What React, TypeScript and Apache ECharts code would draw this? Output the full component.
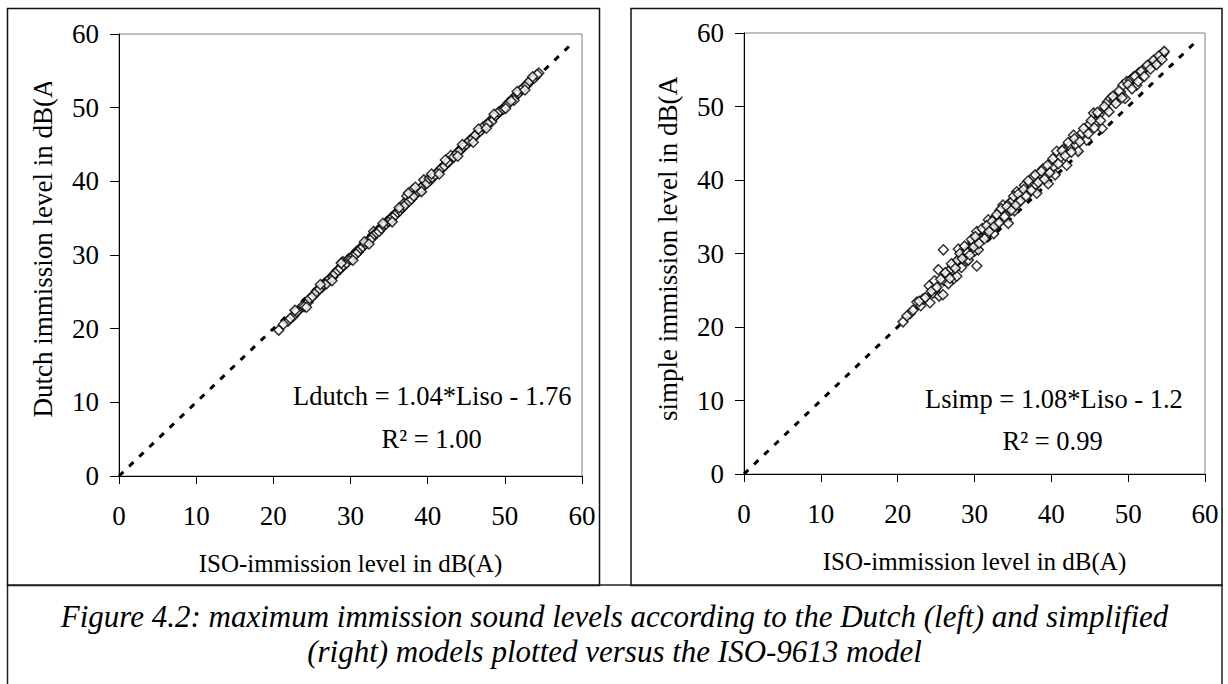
import React, { useEffect, useRef } from "react";
import * as echarts from "echarts";

// ---------- data ----------
const axisTicks = [0, 10, 20, 30, 40, 50, 60];
const identityLine = [0, 59];

// Left panel: ISO level (x) vs Dutch model level (y)
const isoLeft = [
  20.7, 21.9, 22.6, 23.3, 23.8, 24.5, 24.9, 25.4, 25.8, 26.3, 26.7, 27.1, 27.5, 27.9, 28.2, 28.6,
  28.9, 29.3, 29.6, 29.9, 30.2, 30.5, 30.8, 31.1, 31.4, 31.7, 32.0, 32.3, 32.6, 32.9, 33.2, 33.5,
  33.8, 34.1, 34.4, 34.7, 35.0, 35.3, 35.6, 35.9, 36.2, 36.5, 36.8, 37.1, 37.4, 37.7, 38.0, 38.3,
  38.6, 39.0, 39.3, 39.7, 40.0, 40.4, 40.8, 41.2, 41.6, 42.0, 42.4, 42.8, 43.2, 43.6, 44.0, 44.4,
  44.8, 45.2, 45.6, 46.0, 46.5, 47.0, 47.5, 48.0, 48.5, 49.0, 49.5, 50.0, 50.5, 51.0, 51.5, 52.0,
  52.5, 53.0, 53.5, 54.0, 54.4, 29.0, 33.0, 36.9, 37.3, 38.1, 39.5, 43.0, 48.3, 51.2,
  21.3, 22.2, 23.0, 24.0, 24.7, 25.1, 25.6, 26.0, 26.5, 26.9, 27.3, 27.7, 28.0, 28.4, 28.7, 29.1,
  29.5, 29.8, 30.1, 30.4, 30.7, 31.0, 31.3, 31.6, 31.9, 32.2, 32.5, 32.8, 33.1, 33.4, 33.7, 34.0,
  34.3, 34.6, 34.9, 35.2, 35.5, 35.8, 36.1, 36.4, 36.7, 37.0, 37.6, 37.9, 38.2, 38.8, 39.1, 39.9,
  40.2, 40.6, 41.0, 41.4, 41.8, 42.2, 42.6, 43.4, 43.8, 44.2, 44.6, 45.0, 45.4, 45.8, 46.2, 46.8,
  47.2, 47.8, 48.8, 49.2, 49.8, 50.3, 50.8, 51.8, 52.2, 52.8, 53.2, 53.8, 54.2,
  22.8, 24.3, 26.1, 27.6, 28.8, 30.3, 31.8, 32.4, 34.2, 35.4, 36.3, 37.5, 38.4, 39.2, 40.5, 41.5,
  42.3, 43.9, 44.5, 45.9, 46.6, 47.6, 48.6, 50.1, 51.6, 52.6, 53.6,
];
const dutchLeft = [
  19.8, 21.0, 21.7, 22.5, 23.1, 23.6, 24.2, 24.7, 25.3, 25.6, 26.2, 26.5, 26.9, 27.4, 27.8, 28.0,
  28.5, 28.8, 29.3, 29.4, 29.8, 30.1, 30.5, 30.6, 31.0, 31.4, 31.6, 32.0, 32.2, 32.7, 32.9, 33.3,
  33.5, 33.9, 34.1, 34.5, 34.6, 35.1, 35.3, 35.7, 35.9, 36.3, 36.5, 36.9, 37.3, 37.6, 37.8, 38.3,
  38.5, 38.8, 39.3, 39.6, 40.0, 40.2, 40.8, 41.1, 41.6, 41.9, 42.4, 42.7, 43.3, 43.6, 44.1, 44.4,
  44.9, 45.2, 45.7, 46.0, 46.6, 47.0, 47.6, 48.1, 48.6, 49.1, 49.6, 50.1, 50.7, 51.2, 51.7, 52.3,
  52.8, 53.3, 53.8, 54.3, 54.7, 29.1, 33.2, 37.0, 38.0, 38.9, 40.2, 43.5, 48.1, 51.0,
  20.6, 21.4, 22.3, 23.0, 24.1, 24.4, 25.0, 25.4, 26.0, 26.1, 26.8, 27.0, 27.5, 27.9, 28.2, 28.6,
  28.9, 29.5, 29.5, 30.0, 30.1, 30.4, 30.9, 31.1, 31.5, 31.7, 32.1, 32.3, 32.8, 33.0, 33.2, 33.6,
  34.0, 34.2, 34.6, 34.8, 35.2, 35.4, 35.8, 36.0, 36.4, 36.7, 37.3, 37.6, 38.0, 38.6, 39.1, 39.7,
  40.4, 40.5, 40.9, 41.3, 41.8, 42.1, 42.6, 43.3, 43.8, 44.2, 44.7, 45.0, 45.5, 45.8, 46.3, 46.8,
  47.4, 47.8, 48.9, 49.4, 49.8, 50.4, 50.9, 52.0, 52.5, 53.0, 53.6, 54.0, 54.5,
  22.5, 22.9, 26.0, 26.5, 28.9, 29.3, 31.8, 31.5, 34.3, 34.5, 36.4, 38.4, 39.2, 38.6, 41.0, 41.0,
  42.9, 43.4, 45.0, 45.3, 47.1, 47.2, 49.1, 49.9, 52.2, 52.4, 54.2,
];

// Right panel: ISO level (x) vs simplified model level (y)
const isoRight = [
  20.7, 21.6, 22.5, 23.0, 23.3, 24.1, 24.2, 24.6, 24.9, 25.3, 25.4, 25.9, 25.95, 26.0, 26.4, 26.6,
  26.9, 27.2, 27.3, 27.7, 27.9, 28.0, 28.3, 28.5, 28.8, 29.0, 29.2, 29.5, 29.8, 30.0, 30.3, 30.3,
  30.5, 30.8, 31.2, 31.5, 31.8, 32.1, 32.5, 32.7, 33.0, 33.3, 33.7, 34.0, 34.4, 34.6, 35.0, 35.2,
  35.5, 35.8, 36.2, 36.5, 36.8, 37.2, 37.7, 38.0, 38.1, 38.5, 38.9, 39.3, 39.6, 40.0, 40.3, 40.5,
  40.7, 41.2, 41.6, 42.0, 42.4, 42.9, 43.2, 43.5, 44.0, 44.6, 45.0, 45.5, 45.8, 46.2, 46.6, 47.0,
  47.3, 47.7, 48.2, 48.6, 49.0, 49.3, 49.6, 49.8, 50.3, 50.7, 51.1, 51.4, 52.0, 52.3, 52.7, 53.1,
  53.5, 53.8, 54.2, 54.6, 54.3,
  21.2, 22.0, 22.8, 23.6, 24.4, 24.8, 25.1, 25.6, 26.2, 26.8, 27.0, 27.5, 27.8, 28.1, 28.4, 28.7,
  29.1, 29.4, 29.6, 29.9, 30.1, 30.6, 31.0, 31.3, 31.6, 31.9, 32.3, 32.6, 32.9, 33.2, 33.5, 33.9,
  34.2, 34.8, 35.1, 35.4, 35.7, 36.0, 36.4, 36.7, 37.0, 37.4, 37.9, 38.3, 38.7, 39.1, 39.5, 39.8,
  40.2, 40.9, 41.4, 41.8, 42.2, 42.6, 43.0, 43.7, 44.2, 44.8, 45.2, 45.6, 46.0, 46.4, 46.9, 47.5,
  48.0, 48.4, 48.8, 49.2, 50.0, 50.5, 50.9, 51.3, 51.7, 52.1, 52.5, 52.9, 53.3, 53.7, 54.0, 54.4,
  54.7,
];
const simpRight = [
  20.7, 21.8, 23.4, 22.9, 23.8, 25.6, 23.3, 24.6, 25.2, 27.8, 24.2, 24.4, 30.5, 26.3, 27.0, 25.9,
  27.9, 28.3, 26.6, 26.9, 30.6, 29.2, 28.1, 29.9, 30.2, 29.0, 29.1, 30.9, 31.5, 30.3, 33.0, 28.3,
  30.5, 32.0, 33.2, 32.4, 34.6, 33.5, 32.7, 34.9, 34.1, 35.8, 36.6, 35.2, 34.1, 36.9, 37.2, 35.8,
  38.4, 37.0, 38.0, 39.3, 38.0, 39.6, 40.4, 39.3, 38.2, 40.8, 41.5, 40.6, 39.5, 42.3, 41.8, 40.7,
  43.9, 43.1, 44.2, 42.0, 44.6, 46.1, 44.8, 43.9, 46.4, 45.4, 47.6, 49.1, 47.9, 48.9, 47.0, 49.8,
  50.6, 51.1, 50.9, 51.7, 52.0, 52.9, 51.1, 53.4, 53.6, 54.0, 52.9, 54.6, 55.0, 55.3, 55.6, 56.0,
  56.3, 56.1, 56.8, 57.3, 57.0,
  21.5, 22.3, 23.5, 24.0, 24.9, 26.3, 25.4, 26.5, 27.4, 26.6, 28.6, 28.0, 29.1, 30.0, 29.3, 31.0,
  30.1, 29.8, 31.9, 30.9, 32.3, 31.4, 33.4, 32.0, 33.8, 33.0, 34.4, 33.7, 35.3, 34.2, 36.1, 35.0,
  36.4, 35.9, 37.8, 36.6, 38.1, 37.2, 38.7, 37.8, 39.9, 38.6, 40.7, 39.7, 41.2, 40.1, 42.0, 41.0,
  42.9, 42.2, 44.0, 43.3, 45.1, 43.8, 45.6, 45.2, 47.0, 46.3, 48.1, 47.1, 49.2, 48.1, 50.0, 49.3,
  51.4, 50.4, 52.1, 51.2, 53.0, 52.4, 54.1, 53.4, 54.8, 54.1, 55.6, 55.1, 56.3, 55.7, 56.9, 56.4,
  57.5,
];

const leftEquation = "Ldutch = 1.04*Liso - 1.76";
const leftR2 = "R² = 1.00";
const rightEquation = "Lsimp = 1.08*Liso - 1.2";
const rightR2 = "R² = 0.99";
const leftYTitle = "Dutch immission level in dB(A)";
const rightYTitle = "simple immission level in dB(A)";
const xTitle = "ISO-immission level in dB(A)";
const captionText =
  "Figure 4.2: maximum immission sound levels according to the Dutch (left) and simplified\n(right) models plotted versus the ISO-9613 model";

const FONT = "'Liberation Serif', 'Times New Roman', serif";

function pairs(xs: number[], ys: number[]) {
  return xs.map((x, i) => [x, ys[i]]);
}

export default function App() {
  const ref = useRef<HTMLDivElement>(null);
  useEffect(() => {
    if (!ref.current) return;
    const chart = echarts.init(ref.current, null, { renderer: "svg" });

    const makeX = (gridIndex: number) => ({
      gridIndex,
      type: "value",
      min: axisTicks[0],
      max: axisTicks[axisTicks.length - 1],
      interval: 10,
      axisLine: { show: true, onZero: false, lineStyle: { color: "#000", width: 1 } },
      axisTick: { show: true, inside: false, length: 8, lineStyle: { color: "#000", width: 1 } },
      splitLine: { show: false },
      axisLabel: { color: "#000", fontFamily: FONT, fontSize: 27, margin: 26 },
    });
    const makeY = (gridIndex: number) => ({
      gridIndex,
      type: "value",
      min: axisTicks[0],
      max: axisTicks[axisTicks.length - 1],
      interval: 10,
      axisLine: { show: true, onZero: false, lineStyle: { color: "#000", width: 1 } },
      axisTick: { show: true, inside: false, length: 9, lineStyle: { color: "#000", width: 1 } },
      splitLine: { show: false },
      axisLabel: { color: "#000", fontFamily: FONT, fontSize: 27, margin: 20 },
    });

    const dashLine = (idx: number) => ({
      type: "line",
      xAxisIndex: idx,
      yAxisIndex: idx,
      data: identityLine.map((v) => [v, v]),
      symbol: "none",
      silent: true,
      lineStyle: { color: "#000", width: 3, type: [6, 8] },
      z: 1,
    });
    const scatter = (idx: number, xs: number[], ys: number[]) => ({
      type: "scatter",
      xAxisIndex: idx,
      yAxisIndex: idx,
      data: pairs(xs, ys),
      symbol: "diamond",
      symbolSize: 10,
      itemStyle: { color: "#fff", borderColor: "#000", borderWidth: 1.5 },
      z: 2,
    });

    const textStyle = (size: number, extra: any = {}) => ({
      fill: "#000",
      fontFamily: FONT,
      fontSize: size,
      ...extra,
    });

    chart.setOption({
      animation: false,
      backgroundColor: "#fff",
      grid: [
        { left: 119, top: 34, width: 463, height: 442, show: true, borderColor: "#808080", borderWidth: 1 },
        { left: 744, top: 33, width: 461, height: 441, show: true, borderColor: "#808080", borderWidth: 1 },
      ],
      xAxis: [makeX(0), makeX(1)],
      yAxis: [makeY(0), makeY(1)],
      series: [
        dashLine(0),
        scatter(0, isoLeft, dutchLeft),
        dashLine(1),
        scatter(1, isoRight, simpRight),
      ],
      graphic: [
        // panel frames
        { type: "rect", shape: { x: 7.5, y: 8.5, width: 592, height: 577 }, style: { fill: "none", stroke: "#111", lineWidth: 1.5 }, z: 50 },
        { type: "rect", shape: { x: 631, y: 8.5, width: 591, height: 577 }, style: { fill: "none", stroke: "#111", lineWidth: 1.5 }, z: 50 },
        { type: "rect", shape: { x: 7.5, y: 585, width: 1214.5, height: 120 }, style: { fill: "none", stroke: "#222", lineWidth: 1.5 }, z: 50 },
        // y titles
        { type: "text", x: 43, y: 243.5, rotation: Math.PI / 2, style: textStyle(27, { text: leftYTitle, textAlign: "center", textVerticalAlign: "middle" }), z: 40 },
        { type: "text", x: 668, y: 244, rotation: Math.PI / 2, style: textStyle(27, { text: rightYTitle, textAlign: "center", textVerticalAlign: "middle" }), z: 40 },
        // clipping of the titles' top end
        { type: "rect", shape: { x: 24, y: 50, width: 40, height: 32 }, style: { fill: "#fff" }, z: 45 },
        { type: "rect", shape: { x: 648, y: 50, width: 40, height: 27 }, style: { fill: "#fff" }, z: 45 },
        // x titles
        { type: "text", x: 350.5, y: 563, style: textStyle(25, { text: xTitle, textAlign: "center", textVerticalAlign: "middle" }), z: 40 },
        { type: "text", x: 974.5, y: 561, style: textStyle(25, { text: xTitle, textAlign: "center", textVerticalAlign: "middle" }), z: 40 },
        // regression annotations
        { type: "text", x: 293, y: 396, style: textStyle(26.5, { text: leftEquation, textAlign: "left", textVerticalAlign: "middle" }), z: 40 },
        { type: "text", x: 381.5, y: 439, style: textStyle(26.5, { text: leftR2, textAlign: "left", textVerticalAlign: "middle" }), z: 40 },
        { type: "text", x: 925, y: 399, style: textStyle(26.5, { text: rightEquation, textAlign: "left", textVerticalAlign: "middle" }), z: 40 },
        { type: "text", x: 1002.5, y: 441, style: textStyle(26.5, { text: rightR2, textAlign: "left", textVerticalAlign: "middle" }), z: 40 },
        // caption
        { type: "text", x: 614.5, y: 634, style: textStyle(31, { text: captionText, fontStyle: "italic", textAlign: "center", textVerticalAlign: "middle", lineHeight: 35 }), z: 40 },
      ],
    });
    return () => chart.dispose();
  }, []);

  return (
    <div
      ref={ref}
      style={{ position: "fixed", left: 0, top: 0, width: 1228, height: 684, background: "#fff" }}
    />
  );
}
